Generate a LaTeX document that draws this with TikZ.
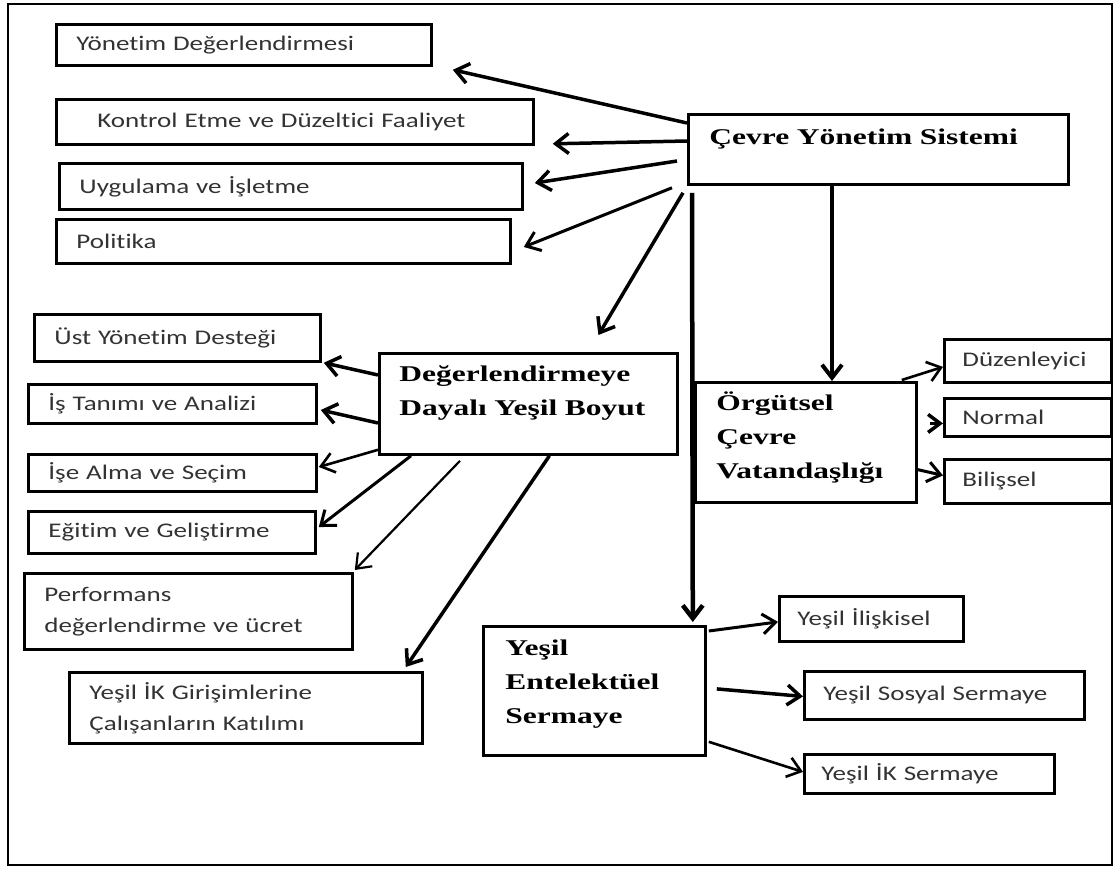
\documentclass[tikz,border=0pt]{standalone}
\usepackage{fontspec}
\usepackage{xcolor}
\usepackage{tikz}
\usetikzlibrary{arrows.meta}
\newfontfamily\boxsans[FakeStretch=1.3, Ligatures=NoCommon]{Carlito}
\newfontfamily\boxserif[FakeStretch=1.4]{Liberation Serif}
\definecolor{txtgray}{HTML}{333333}
\tikzset{
  box/.style={draw, line width=2.8pt, anchor=north west, inner xsep=20pt, inner ysep=0pt, align=left},
  sansbox/.style={box, font=\boxsans\fontsize{20.8}{31}\selectfont, text=txtgray},
  boldbox/.style={box, font=\boxserif\bfseries\fontsize{22.5}{34}\selectfont},
  arr/.style={line width=3.5pt, -{Straight Barb[length=13pt,width=20pt]}},
  arrthin/.style={arr, line width=2.2pt}
}
\begin{document}
\begin{tikzpicture}[x=1pt, y=-1pt]
    \useasboundingbox (0,0) rectangle (1116,868);
    \draw[line width=1.8pt] (8,4) rectangle (1112,865);
    \node[sansbox, minimum height=41pt, text width=335pt] (yd) at (55,23) {Yönetim Değerlendirmesi};
    \node[sansbox, minimum height=45pt, inner xsep=41pt, text width=395pt] (kd) at (55,98) {Kontrol Etme ve Düzeltici Faaliyet};
    \node[sansbox, minimum height=46pt, text width=423pt] (ui) at (58,162) {Uygulama ve İşletme};
    \node[sansbox, minimum height=44pt, text width=414pt] (po) at (55,218) {Politika};
    \node[boldbox, minimum height=70pt, inner xsep=21pt, text width=338pt, text height=30pt, text depth=40pt] (cys) at (687,113) {Çevre Yönetim Sistemi};
    \node[sansbox, minimum height=47pt, text width=246pt] (ust) at (33,313) {Üst Yönetim Desteği};
    \node[sansbox, minimum height=39pt, text width=248pt] (ist) at (27,383) {İş Tanımı ve Analizi};
    \node[sansbox, minimum height=37pt, text width=248pt] (isa) at (27,453) {İşe Alma ve Seçim};
    \node[sansbox, minimum height=42pt, text width=247pt] (egi) at (27,510) {Eğitim ve Geliştirme};
    \node[sansbox, minimum height=76pt, text width=288pt] (perf) at (23,572) {Performans\\değerlendirme ve ücret};
    \node[sansbox, minimum height=71pt, text width=313pt] (ykg) at (68,671) {Yeşil İK Girişimlerine\\Çalışanların Katılımı};
    \node[boldbox, minimum height=101pt, text width=258pt, text height=28pt, text depth=73pt] (deg) at (378,352) {Değerlendirmeye\\Dayalı Yeşil Boyut};
    \node[boldbox, minimum height=120pt, inner xsep=21pt, text width=179pt, text height=28pt, text depth=92pt] (org) at (694,381) {Örgütsel\\Çevre\\Vatandaşlığı};
    \node[sansbox, minimum height=43pt, inner xsep=18pt, text width=131pt] (duz) at (943,338) {Düzenleyici};
    \node[sansbox, minimum height=38pt, inner xsep=18pt, text width=131pt] (nor) at (943,397) {Normal};
    \node[sansbox, minimum height=44pt, inner xsep=18pt, text width=131pt] (bil) at (943,458) {Bilişsel};
    \node[boldbox, minimum height=129pt, inner xsep=22pt, text width=178pt, text height=29pt, text depth=100pt] (yent) at (482,625) {Yeşil\\Entelektüel\\Sermaye};
    \node[sansbox, minimum height=45pt, inner xsep=18pt, text width=148pt] (yil) at (778,595) {Yeşil İlişkisel};
    \node[sansbox, minimum height=48pt, inner xsep=19pt, text width=242pt] (yss) at (803,670) {Yeşil Sosyal Sermaye};
    \node[sansbox, minimum height=39pt, inner xsep=17pt, text width=216pt] (yiks) at (803,753) {Yeşil İK Sermaye};
    \draw[arr] ([shift={(0,10)}]cys.north west) -- ([shift={(20,3)}]yd.south east);
    \draw[arr] ([shift={(0,28)}]cys.north west) -- ([shift={(18,-2)}]kd.south east);
    \draw[arr] ([shift={(-10,48)}]cys.north west) -- ([shift={(11,21)}]ui.north east);
    \draw[arr, line width=3pt] ([shift={(-15,2)}]cys.south west) -- ([shift={(12,29)}]po.north east);
    \draw[arr] ([shift={(-4,7)}]cys.south west) -- ([shift={(70,-17)}]deg.north);
    \draw[arr, line width=4.5pt] ([shift={(5,7)}]cys.south west) -- ([shift={(-14,-3)}]yent.north east);
    \draw[arr, line width=4pt] ([shift={(145,0)}]cys.south west) -- ([shift={(138,0)}]org.north west);
    \draw[arr] ([shift={(0,23)}]deg.north west) -- ([shift={(2,0)}]ust.south east);
    \draw[arr] ([shift={(0,71)}]deg.north west) -- ([shift={(3,27)}]ist.north east);
    \draw[arrthin, line width=2.6pt] ([shift={(0,-6)}]deg.south west) -- ([shift={(1,14)}]isa.north east);
    \draw[arr, line width=3pt] ([shift={(33,0)}]deg.south west) -- ([shift={(2,17)}]egi.north east);
    \draw[arrthin] ([shift={(82,5)}]deg.south west) -- ([shift={(1,-2)}]perf.north east);
    \draw[arr] ([shift={(21,0)}]deg.south) -- ([shift={(-18,-4)}]ykg.north east);
    \draw[arrthin, line width=2.6pt] ([shift={(-16,-1)}]org.north east) -- ([shift={(0,6)}]duz.west);
    \draw[arr, -{Straight Barb[length=12pt,width=18pt]}] ([shift={(12,-19)}]org.east) -- ([shift={(0,6)}]nor.west);
    \draw[arr, line width=3pt] ([shift={(-1,27)}]org.east) -- ([shift={(0,-6)}]bil.west);
    \draw[arr, line width=3pt] ([shift={(2,6)}]yent.north east) -- ([shift={(0,3)}]yil.west);
    \draw[arr] ([shift={(10,-2)}]yent.east) -- ([shift={(0,1)}]yss.west);
    \draw[arrthin, line width=2.6pt] ([shift={(2,-15)}]yent.south east) -- ([shift={(0,-2)}]yiks.west);
\end{tikzpicture}
\end{document}
